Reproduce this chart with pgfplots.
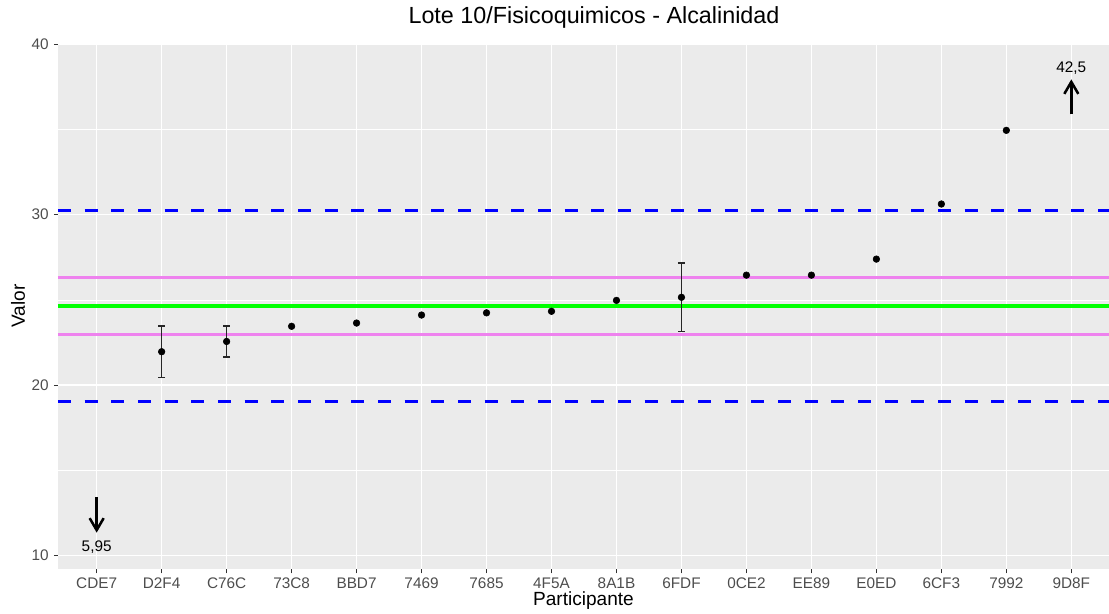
\documentclass[border=0pt]{standalone}
\usepackage{fontspec}
\setmainfont{Liberation Sans}
\usepackage{pgfplots}
\pgfplotsset{compat=1.18}
\usetikzlibrary{arrows.meta}
\definecolor{panelgrey}{HTML}{EBEBEB}
\definecolor{grey30}{HTML}{4D4D4D}
\definecolor{grey20}{HTML}{333333}
\definecolor{violeta}{HTML}{EE82EE}
\definecolor{verde}{HTML}{00FF00}
\definecolor{azul}{HTML}{0000FF}

\begin{document}
\begin{tikzpicture}
\begin{axis}[
  scale only axis, width=788.25pt, height=395.1pt,
  xmin=-0.595, xmax=15.58, ymin=9.2, ymax=40.09,
  axis background/.style={fill=panelgrey},
  axis line style={draw=none},
  xtick={0,...,15},
  xticklabels={CDE7,D2F4,C76C,73C8,BBD7,7469,7685,4F5A,8A1B,6FDF,0CE2,EE89,E0ED,6CF3,7992,9D8F},
  ytick={10,20,30,40}, minor ytick={15,25,35},
  grid=both,
  major grid style={white, line width=1.1pt},
  minor grid style={white, line width=0.55pt},
  tick align=outside, xtick pos=left, ytick pos=left,
  major tick length=3pt, minor tick length=0pt,
  tick style={grey20, line width=0.8pt},
  /pgf/number format/assume math mode=true,
  ticklabel style={font=\fontsize{11.5}{13}\selectfont, text=grey30, inner sep=0pt},
  xticklabel style={anchor=base, yshift=-11.5pt},
  yticklabel style={anchor=east, xshift=-3.75pt},
  title={Lote 10/Fisicoquimicos - Alcalinidad},
  title style={font=\fontsize{17.5}{20}\selectfont, at={(axis description cs:0.51,1)}, anchor=base, yshift=8.1pt, inner sep=0pt},
  xlabel={Participante},
  xlabel style={font=\fontsize{14.3}{16}\selectfont, at={(axis description cs:0.5,-0.0695)}, anchor=base, inner sep=0pt},
  ylabel={Valor},
  ylabel style={font=\fontsize{14.3}{16}\selectfont, at={(axis description cs:-0.0314,0.5)}, anchor=base, rotate=0, inner sep=0pt},
]
% reference lines
\addplot[azul, line width=2.2pt, dash pattern=on 9.7pt off 10.3pt] coordinates {(-0.595,30.25) (15.58,30.25)};
\addplot[azul, line width=2.2pt, dash pattern=on 9.7pt off 10.3pt] coordinates {(-0.595,19.05) (15.58,19.05)};
\addplot[violeta, line width=2.2pt] coordinates {(-0.595,26.32) (15.58,26.32)};
\addplot[violeta, line width=2.2pt] coordinates {(-0.595,22.98) (15.58,22.98)};
\addplot[verde, line width=3.2pt] coordinates {(-0.595,24.65) (15.58,24.65)};
% error bars
\addplot[only marks, mark=none,
  error bars/.cd, y dir=both, y explicit,
  error mark=-,
  error bar style={black!85, line width=1.25pt},
  error mark options={black!85, line width=1.1pt, mark size=2.6pt, rotate=90}]
  coordinates {(1,21.96) +- (0,1.5) (2,22.56) +- (0,0.9) (9,25.15) +- (0,2.0)};
% points
\addplot[only marks, mark=*, mark size=2.5pt, black] coordinates {
  (1,21.96) (2,22.56) (3,23.45) (4,23.64) (5,24.11) (6,24.24) (7,24.33)
  (8,24.97) (9,25.15) (10,26.45) (11,26.45) (12,27.39) (13,30.62) (14,34.94)};
% out-of-range values
\addplot[black, line width=1.9pt, -{Straight Barb[length=9pt,width=10.5pt]}] coordinates {(15,35.88) (15,37.93)};
\addplot[black, line width=1.9pt, -{Straight Barb[length=9pt,width=10.5pt]}] coordinates {(0,13.42) (0,11.35)};
\node[font=\fontsize{11.5}{13}\selectfont, anchor=base, inner sep=0pt] at (axis cs:15,38.31) {42,5};
\node[font=\fontsize{11.5}{13}\selectfont, anchor=base, inner sep=0pt] at (axis cs:0,10.25) {5,95};
\end{axis}
\pgfresetboundingbox
\path (current axis.south west) ++(-43.5pt,-32.8pt) rectangle ([yshift=31.9pt]current axis.north east);
\end{tikzpicture}
\end{document}
